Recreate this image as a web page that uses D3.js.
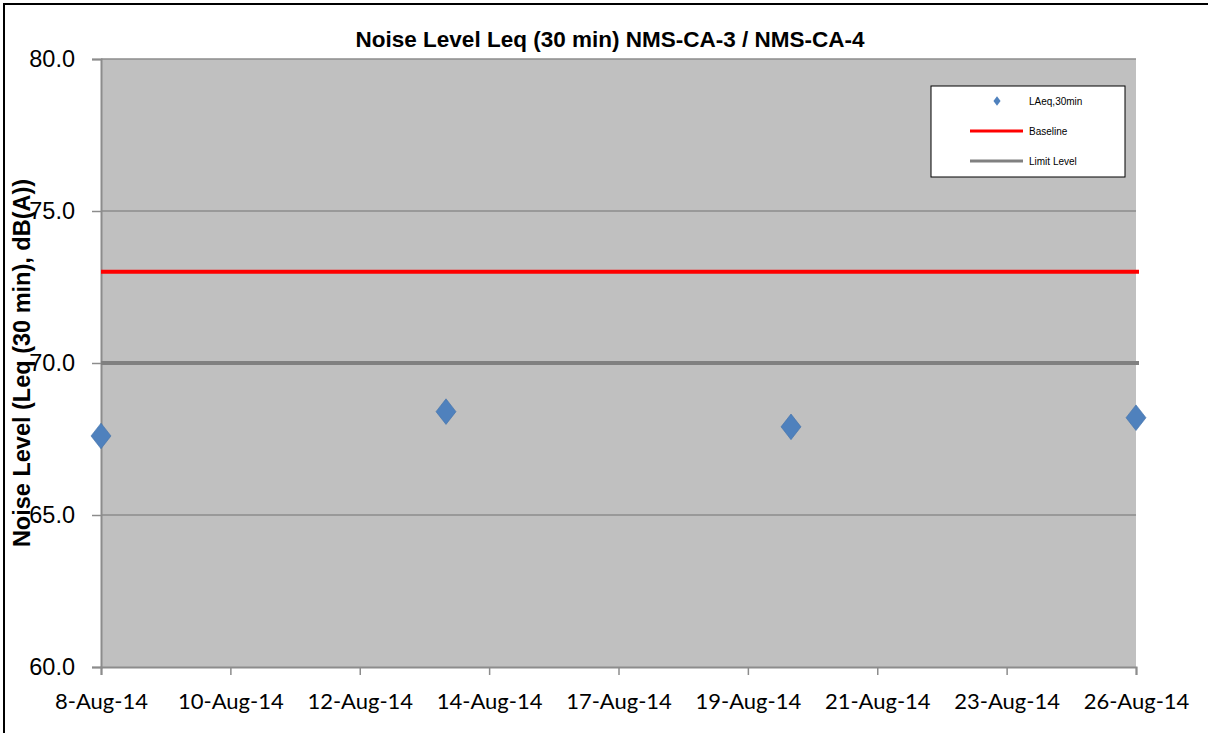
<!DOCTYPE html>
<html>
<head>
<meta charset="utf-8">
<script src="https://cdn.jsdelivr.net/npm/d3@7"></script>
<style>
	body { margin: 0; background: #fff; }
	svg { display: block; }
</style>
</head>
<body>
<div id="chart"></div>
<script>

// data
var dates      = ["2014-08-08", "2014-08-14", "2014-08-20", "2014-08-26"];
var laeq       = [67.6, 68.4, 67.9, 68.2];
var baseline   = 73.0;
var limitLevel = 70.0;
var yTicks     = [60, 65, 70, 75, 80];
var legendKeys = ["LAeq,30min", "Baseline", "Limit Level"];

var width  = 1208,
	height = 733,
	margin = { top: 59, right: 72, bottom: 66, left: 101 };

var parse = d3.timeParse("%Y-%m-%d");
var pts = dates.map(function(d, i) { return { date: parse(d), value: laeq[i] }; });

var svg = d3.select("#chart")
	.append("svg")
	.attr("width", width)
	.attr("height", height);

// outer frame
svg.append("rect")
	.attr("x", 4).attr("y", 4)
	.attr("width", width + 10).attr("height", height + 10)
	.attr("fill", "none")
	.attr("stroke", "#000")
	.attr("stroke-width", 2);

var x = d3.scaleTime()
	.domain([parse(dates[0]), parse(dates[dates.length - 1])])
	.range([margin.left, width - margin.right]);

var y = d3.scaleLinear()
	.domain([60, 80])
	.range([height - margin.bottom, margin.top]);

// plot area
svg.append("rect")
	.attr("x", x.range()[0])
	.attr("y", y(80))
	.attr("width", x.range()[1] - x.range()[0])
	.attr("height", y(60) - y(80))
	.attr("fill", "#c0c0c0");

// grid
svg.append("g")
	.selectAll("line")
	.data(yTicks.filter(function(t) { return t > 60; }))
	.enter().append("line")
	.attr("x1", x.range()[0])
	.attr("x2", x.range()[1])
	.attr("y1", function(d) { return y(d); })
	.attr("y2", function(d) { return y(d); })
	.attr("stroke", "#8c8c8c")
	.attr("stroke-width", 1.5);

// x ticks: 8 equal intervals over the date range (Excel style)
var t0 = x.domain()[0].getTime(), t1 = x.domain()[1].getTime();
var xTicks = d3.range(9).map(function(i) { return new Date(t0 + (t1 - t0) * i / 8); });
var fmt = function(d) { return d3.timeFormat("%-d-%b-%y")(d); };

var xAxis = svg.append("g")
	.attr("transform", "translate(0," + y(60) + ")")
	.call(d3.axisBottom(x).tickValues(xTicks).tickFormat(fmt).tickSize(8).tickPadding(18));

xAxis.select(".domain").attr("stroke", "#8c8c8c").attr("stroke-width", 2);
xAxis.selectAll(".tick line").attr("stroke", "#8c8c8c").attr("stroke-width", 1.5);
xAxis.selectAll("text")
	.attr("fill", "#000")
	.style("font-family", "Lato, 'Open Sans', sans-serif")
	.style("font-size", "22px");

var yAxis = svg.append("g")
	.attr("transform", "translate(" + x.range()[0] + ",0)")
	.call(d3.axisLeft(y).tickValues(yTicks).tickFormat(d3.format(".1f")).tickSize(9).tickPadding(17));

yAxis.select(".domain").attr("stroke", "#8c8c8c").attr("stroke-width", 2);
yAxis.selectAll(".tick line").attr("stroke", "#8c8c8c").attr("stroke-width", 1.5);
yAxis.selectAll("text")
	.attr("fill", "#000")
	.style("font-family", "'Liberation Sans', Arial, sans-serif")
	.style("font-size", "23.5px");

// reference lines
svg.append("line")
	.attr("x1", x.range()[0]).attr("x2", x.range()[1] + 3)
	.attr("y1", y(limitLevel)).attr("y2", y(limitLevel))
	.attr("stroke", "#808080").attr("stroke-width", 4);

svg.append("line")
	.attr("x1", x.range()[0]).attr("x2", x.range()[1] + 3)
	.attr("y1", y(baseline)).attr("y2", y(baseline))
	.attr("stroke", "#ff0000").attr("stroke-width", 4);

// points
var diamond = d3.symbol().type(d3.symbolDiamond);
svg.append("g")
	.selectAll("path")
	.data(pts)
	.enter().append("path")
	.attr("d", diamond.size(190))
	.attr("transform", function(d) { return "translate(" + x(d.date) + "," + y(d.value) + ") scale(1.35,1)"; })
	.attr("fill", "#4f81bd")
	.attr("stroke", "#3f6fa8")
	.attr("stroke-width", 0.5);

// title
svg.append("text")
	.attr("x", 610)
	.attr("y", 47)
	.attr("text-anchor", "middle")
	.style("font-family", "'Liberation Sans', Arial, sans-serif")
	.style("font-size", "22.5px")
	.style("font-weight", "bold")
	.text("Noise Level Leq (30 min) NMS-CA-3 / NMS-CA-4");

// y label
svg.append("text")
	.attr("transform", "translate(30," + ((y(60) + y(80)) / 2) + ") rotate(-90)")
	.attr("text-anchor", "middle")
	.style("font-family", "'Liberation Sans', Arial, sans-serif")
	.style("font-size", "23.5px")
	.style("font-weight", "bold")
	.text("Noise Level (Leq (30 min), dB(A))");

// legend
var legend = svg.append("g").attr("transform", "translate(931,86)");
legend.append("rect")
	.attr("width", 194).attr("height", 91)
	.attr("fill", "#fff")
	.attr("stroke", "#000")
	.attr("stroke-width", 1);

var rows = legend.selectAll("g.row")
	.data(legendKeys)
	.enter().append("g")
	.attr("class", "row")
	.attr("transform", function(d, i) { return "translate(0," + (15 + i * 30) + ")"; });

rows.each(function(d, i) {
	var g = d3.select(this);
	if (i === 0) {
		g.append("path")
			.attr("d", d3.symbol().type(d3.symbolDiamond).size(26)())
			.attr("transform", "translate(66,0) scale(1.3,1)")
			.attr("fill", "#4f81bd");
	} else {
		g.append("line")
			.attr("x1", 39).attr("x2", 92)
			.attr("stroke", i === 1 ? "#ff0000" : "#808080")
			.attr("stroke-width", 3);
	}
	g.append("text")
		.attr("x", 98)
		.attr("y", 4)
		.style("font-family", "'Liberation Sans', Arial, sans-serif")
		.style("font-size", "10px")
		.text(d);
});

</script>
</body>
</html>
